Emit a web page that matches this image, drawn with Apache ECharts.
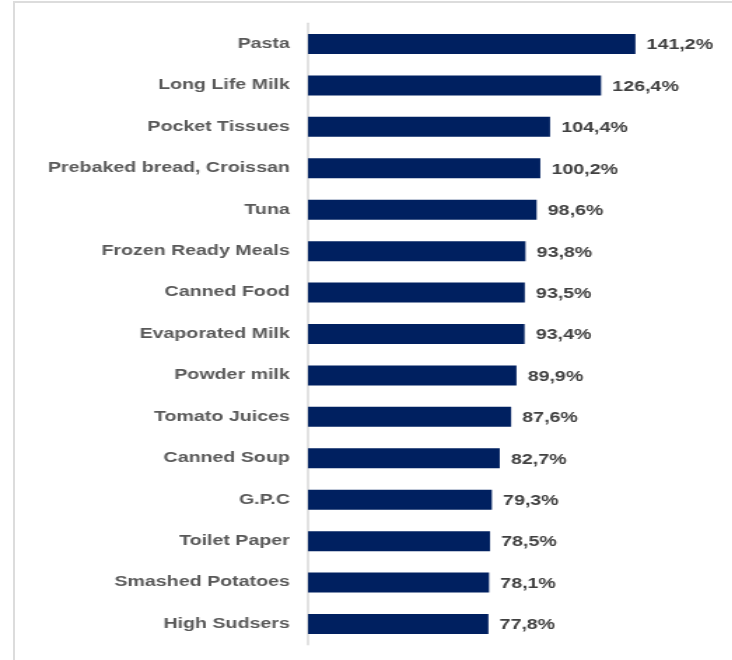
<!DOCTYPE html>
<html>
<head>
<meta charset="utf-8">
<script src="https://cdn.jsdelivr.net/npm/echarts@6/dist/echarts.min.js"></script>
<style>
  html, body { margin: 0; padding: 0; background: #fff; overflow: hidden; }
  #frame {
    position: absolute; left: 13px; top: 1px; width: 719px; height: 659px;
    border-top: 2px solid #dcdcdc; border-left: 2px solid #dcdcdc; box-sizing: border-box;
  }
  /* the chart is laid out narrow and widened horizontally */
  #chart {
    position: absolute; left: 0; top: 0; width: 523px; height: 660px;
    transform: scaleX(1.4); transform-origin: 0 0;
  }
</style>
</head>
<body>
<div id="frame"></div>
<div id="chart"></div>
<script>
const categories = [
  'Pasta', 'Long Life Milk', 'Pocket Tissues', 'Prebaked bread, Croissan', 'Tuna',
  'Frozen Ready Meals', 'Canned Food', 'Evaporated Milk', 'Powder milk', 'Tomato Juices',
  'Canned Soup', 'G.P.C', 'Toilet Paper', 'Smashed Potatoes', 'High Sudsers'
];
const values = [141.2, 126.4, 104.4, 100.2, 98.6, 93.8, 93.5, 93.4, 89.9, 87.6, 82.7, 79.3, 78.5, 78.1, 77.8];

const fontFamily = '"Liberation Sans", Arial, sans-serif';
const chart = echarts.init(document.getElementById('chart'), null, { renderer: 'canvas' });

chart.setOption({
  animation: false,
  grid: { left: 220, top: 23.3, height: 621.4, right: 38 },
  xAxis: {
    type: 'value', min: 0, max: 160,
    show: false
  },
  yAxis: {
    type: 'category',
    data: categories,
    inverse: true,
    axisLine: { show: true, lineStyle: { color: '#d9d9d9', width: 1.5 } },
    axisTick: { show: false },
    axisLabel: {
      margin: 13,
      color: '#595959',
      fontFamily: fontFamily,
      fontWeight: 'bold',
      fontSize: 14,
      padding: [2, 0, 0, 0]
    },
    splitLine: { show: false }
  },
  series: [{
    type: 'bar',
    data: values,
    barWidth: 20,
    itemStyle: { color: '#002060' },
    label: {
      show: true,
      position: 'right',
      distance: 8,
      offset: [0, 1.5],
      color: '#404040',
      fontFamily: fontFamily,
      fontWeight: 'bold',
      fontSize: 14,
      formatter: p => p.value.toFixed(1).replace('.', ',') + '%'
    }
  }]
});
</script>
</body>
</html>
